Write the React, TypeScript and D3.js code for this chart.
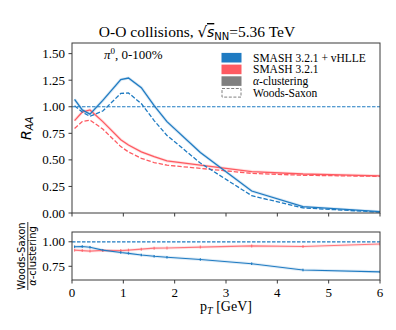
import React from "react";
import * as d3 from "d3";

const pT = [0.05, 0.2, 0.35, 0.6, 0.95, 1.1, 1.35, 1.6, 1.85, 2.5, 3.5, 4.5, 6];
const hydroAlpha = [1.07, 0.97, 0.93, 1.06, 1.255, 1.27, 1.18, 1.01, 0.86, 0.57, 0.207, 0.06, 0.012];
const hydroWS = [1.01, 0.95, 0.91, 0.96, 1.125, 1.13, 1.03, 0.87, 0.73, 0.47, 0.163, 0.048, 0.008];
const smashAlpha = [0.87, 0.95, 0.97, 0.86, 0.69, 0.64, 0.575, 0.53, 0.49, 0.45, 0.39, 0.367, 0.35];
const smashWS = [0.795, 0.86, 0.875, 0.79, 0.625, 0.575, 0.515, 0.475, 0.45, 0.42, 0.373, 0.355, 0.345];
const ratioHydro = [0.95, 0.952, 0.945, 0.915, 0.89, 0.882, 0.865, 0.852, 0.843, 0.82, 0.776, 0.712, 0.693];
const ratioSmash = [0.915, 0.91, 0.905, 0.912, 0.91, 0.915, 0.925, 0.935, 0.937, 0.946, 0.958, 0.952, 0.978];

const xTicks = [0, 1, 2, 3, 4, 5, 6];
const yTicksMain = [0, 0.25, 0.5, 0.75, 1.0, 1.25, 1.5];
const yTicksRatio = [0.75, 1.0];
const legendLabels = ["SMASH 3.2.1 + vHLLE", "SMASH 3.2.1", "-clustering", "Woods-Saxon"];

const BLUE = "#1f7bc2";
const RED = "#fe5a61";
const GRAY = "#808080";
const SPINE = "#3a3a3a";
const SERIF = "'Liberation Serif', 'Times New Roman', serif";
const SANS = "'DejaVu Sans', sans-serif";

const L = 72, R = 380;
const mainTop = 43, mainBot = 213;
const ratTop = 232, ratBot = 280;

export default function App() {
  const x = d3.scaleLinear().domain([0, 6]).range([L, R]);
  const y = d3.scaleLinear().domain([0, 1.6]).range([mainBot, mainTop]);
  const yr = d3.scaleLinear().domain([0.61, 1.1]).range([ratBot, ratTop]);

  const lineMain = (vals: number[]) =>
    d3.line<number>().x((_, i) => x(pT[i])).y((v) => y(v))(vals) || "";
  const lineRat = (vals: number[]) =>
    d3.line<number>().x((_, i) => x(pT[i])).y((v) => yr(v))(vals) || "";

  const dash = "4.4,1.9";

  return (
    <svg width={396} height={330} style={{ position: "absolute", left: 0, top: 0, background: "#fff" }}>
      <defs>
        <clipPath id="cm"><rect x={L} y={mainTop} width={R - L} height={mainBot - mainTop} /></clipPath>
        <clipPath id="cr"><rect x={L} y={ratTop} width={R - L} height={ratBot - ratTop} /></clipPath>
      </defs>

      {/* Title */}
      <text x={197} y={37} textAnchor="middle" fontFamily={SERIF} fontSize={15.5} fill="#000">
        <tspan>O-O collisions, </tspan>
        <tspan fontFamily={SANS} fontSize={15}>√</tspan>
        <tspan fontFamily={SANS} fontStyle="italic" fontSize={14} textDecoration="overline">s</tspan>
        <tspan fontFamily={SANS} fontSize={10} dy={3}>NN</tspan>
        <tspan dy={-3}>=5.36 TeV</tspan>
      </text>

      {/* Main panel */}
      <g clipPath="url(#cm)">
        <line x1={L} x2={R} y1={y(1)} y2={y(1)} stroke={BLUE} strokeWidth={1} strokeDasharray="3.5,1.5" />
        {[hydroAlpha, smashAlpha].map((v, i) => (
          <path key={"b" + i} d={lineMain(v)} fill="none" stroke={i === 0 ? BLUE : RED} strokeWidth={3} strokeOpacity={0.18} />
        ))}
        <path d={lineMain(smashWS)} fill="none" stroke={RED} strokeWidth={1.3} strokeDasharray={dash} />
        <path d={lineMain(smashAlpha)} fill="none" stroke={RED} strokeWidth={1.3} />
        <path d={lineMain(hydroWS)} fill="none" stroke={BLUE} strokeWidth={1.3} strokeDasharray={dash} />
        <path d={lineMain(hydroAlpha)} fill="none" stroke={BLUE} strokeWidth={1.3} />
      </g>
      <rect x={L} y={mainTop} width={R - L} height={mainBot - mainTop} fill="none" stroke={SPINE} strokeWidth={1} />
      {xTicks.map((t) => (
        <line key={"mx" + t} x1={x(t)} x2={x(t)} y1={mainBot} y2={mainBot + 3.5} stroke={SPINE} strokeWidth={1} />
      ))}
      {yTicksMain.map((t) => (
        <g key={"my" + t}>
          <line x1={L - 3.5} x2={L} y1={y(t)} y2={y(t)} stroke={SPINE} strokeWidth={1} />
          <text x={L - 7} y={y(t) + 4.5} textAnchor="end" fontFamily={SERIF} fontSize={13} fill="#000">
            {t.toFixed(2)}
          </text>
        </g>
      ))}

      {/* R_AA label */}
      <text transform={`translate(30.5,${(mainTop + mainBot) / 2 + 12}) rotate(-90)`} fontFamily={SANS} fontStyle="italic" fontSize={14} fill="#000">
        <tspan>R</tspan>
        <tspan fontSize={10} dy={2.5}>AA</tspan>
      </text>

      {/* annotation */}
      <text x={104} y={59} fontFamily={SERIF} fontSize={13} fill="#000">
        <tspan fontStyle="italic">π</tspan>
        <tspan fontSize={9} dy={-5}>0</tspan>
        <tspan dy={5}>, 0-100%</tspan>
      </text>

      {/* Legend */}
      {legendLabels.map((lab, i) => {
        const cy = 57.7 + i * 11.7;
        const col = i === 0 ? BLUE : i === 1 ? RED : GRAY;
        return (
          <g key={"lg" + i}>
            {i < 3 ? (
              <rect x={221.5} y={cy - 4.8} width={20} height={9.6} fill={col} />
            ) : (
              <rect x={222} y={cy - 4.3} width={19} height={8.6} fill="none" stroke={GRAY} strokeWidth={1} strokeDasharray="3,1.6" />
            )}
            <text x={253} y={cy + 3.8} fontFamily={SERIF} fontSize={11.5} fill="#000">
              {i === 2 ? (
                <>
                  <tspan fontStyle="italic">α</tspan>
                  <tspan>{lab}</tspan>
                </>
              ) : (
                lab
              )}
            </text>
          </g>
        );
      })}

      {/* Ratio panel */}
      <g clipPath="url(#cr)">
        <line x1={L} x2={R} y1={yr(1)} y2={yr(1)} stroke={BLUE} strokeWidth={1.2} strokeDasharray="3.5,1.5" />
        <path d={lineRat(ratioSmash)} fill="none" stroke={RED} strokeWidth={3} strokeOpacity={0.15} />
        <path d={lineRat(ratioHydro)} fill="none" stroke={BLUE} strokeWidth={3} strokeOpacity={0.15} />
        <path d={lineRat(ratioSmash)} fill="none" stroke={RED} strokeWidth={1.1} strokeOpacity={0.8} />
        <path d={lineRat(ratioHydro)} fill="none" stroke={BLUE} strokeWidth={1.1} />
        {pT.map((p, i) => (
          <g key={"eb" + i}>
            <line x1={x(p)} x2={x(p)} y1={yr(ratioSmash[i]) - 1.5} y2={yr(ratioSmash[i]) + 1.5} stroke={RED} strokeWidth={1.2} strokeOpacity={0.7} />
            <line x1={x(p)} x2={x(p)} y1={yr(ratioHydro[i]) - 1.2} y2={yr(ratioHydro[i]) + 1.2} stroke={BLUE} strokeWidth={1.2} />
          </g>
        ))}
      </g>
      <rect x={L} y={ratTop} width={R - L} height={ratBot - ratTop} fill="none" stroke={SPINE} strokeWidth={1} />
      {xTicks.map((t) => (
        <g key={"rx" + t}>
          <line x1={x(t)} x2={x(t)} y1={ratBot} y2={ratBot + 3.5} stroke={SPINE} strokeWidth={1} />
          <text x={x(t)} y={297} textAnchor="middle" fontFamily={SERIF} fontSize={13} fill="#000">
            {t}
          </text>
        </g>
      ))}
      {yTicksRatio.map((t) => (
        <g key={"ry" + t}>
          <line x1={L - 3.5} x2={L} y1={yr(t)} y2={yr(t)} stroke={SPINE} strokeWidth={1} />
          <text x={L - 7} y={yr(t) + 4.5} textAnchor="end" fontFamily={SERIF} fontSize={13} fill="#000">
            {t.toFixed(2)}
          </text>
        </g>
      ))}

      {/* ratio y label */}
      <g transform={`translate(0,${(ratTop + ratBot) / 2}) rotate(-90)`}>
        <text x={0} y={25} textAnchor="middle" fontFamily={SANS} fontSize={10} fill="#000">Woods-Saxon</text>
        <line x1={-34} x2={34} y1={27.8} y2={27.8} stroke="#000" strokeWidth={0.8} />
        <text x={0} y={36} textAnchor="middle" fontFamily={SANS} fontSize={10} fill="#000">
          <tspan fontStyle="italic">α</tspan>-clustering
        </text>
      </g>

      {/* x label */}
      <text x={(L + R) / 2} y={310.5} textAnchor="middle" fontFamily={SERIF} fontSize={14} fill="#000">
        <tspan>p</tspan>
        <tspan fontStyle="italic" fontSize={10} dy={3}>T</tspan>
        <tspan dy={-3}> [GeV]</tspan>
      </text>
    </svg>
  );
}
